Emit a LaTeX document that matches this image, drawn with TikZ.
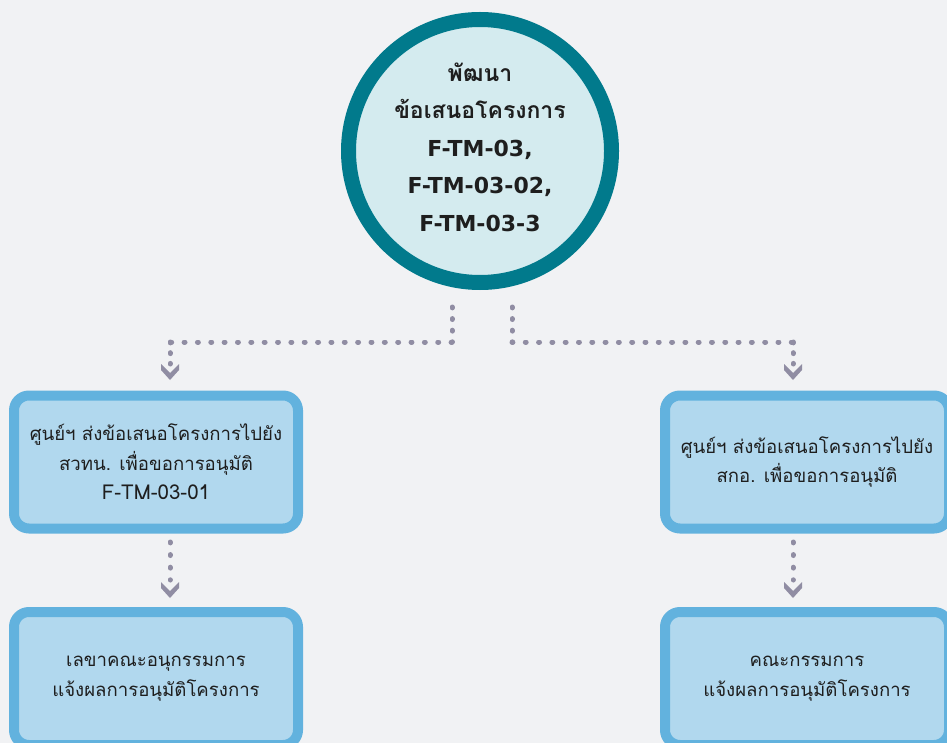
\documentclass[tikz,border=0pt]{standalone}
\usepackage{fontspec}
\newfontfamily\thai[Script=Thai]{Loma}
\newfontfamily\latinbold{DejaVu Sans}
\usetikzlibrary{calc}
\definecolor{bgc}{HTML}{F1F2F4}
\definecolor{ringc}{HTML}{017A8C}
\definecolor{circfill}{HTML}{D4EBEF}
\definecolor{boxedge}{HTML}{62B2DE}
\definecolor{boxfill}{HTML}{B1D8EE}
\definecolor{dotc}{HTML}{908DA3}
\definecolor{txtc}{HTML}{1E1E1E}
\newcommand{\codefont}{\latinbold\bfseries\fontsize{22}{37.5}\selectfont}
\newcommand{\boxcode}{\fontsize{20.5}{29.5}\selectfont}
\tikzset{
  hub/.style={circle, draw=ringc, line width=15pt, fill=circfill,
    minimum size=263pt, inner sep=0pt, outer sep=0pt},
  hubtext/.style={text=txtc, align=center, inner sep=0pt,
    font=\thai\bfseries\fontsize{23}{37.5}\selectfont},
  stepbox/.style={rectangle, rounded corners=15pt, draw=boxedge, line width=10pt,
    fill=boxfill, inner sep=0pt, outer sep=0pt, text=txtc, align=center,
    minimum width=284pt, minimum height=133pt,
    font=\thai\fontsize{18.6}{29.5}\selectfont},
  dotline/.style={draw=dotc, line width=5pt, line cap=round,
    dash pattern=on 0.9pt off #1},
  pics/chevron/.style={code={
    \fill[dotc] (0,0) -- (-9,-10) -- (-9,-16) -- (0,-7) -- (9,-16) -- (9,-10) -- cycle;
  }}
}
\begin{document}
\begin{tikzpicture}[x=1pt,y=-1pt]
  \fill[bgc] (0,0) rectangle (947,743);
  \useasboundingbox (0,0) rectangle (947,743);

  % central circle and its label
  \node[hub] (dev) at (480,151) {};
  \node[hubtext] (devtext) at (480,147) {พัฒนา\\ข้อเสนอโครงการ\\{\codefont F-TM-03,}\\{\codefont F-TM-03-02,}\\{\codefont F-TM-03-3}};

  % boxes
  \node[stepbox] (sendL) at (156,462) {ศูนย์ฯ ส่งข้อเสนอโครงการไปยัง\\สวทน. เพื่อขอการอนุมัติ\\{\boxcode F-TM-03-01}};
  \node[stepbox] (sendR) at (807,462) {ศูนย์ฯ ส่งข้อเสนอโครงการไปยัง\\สกอ. เพื่อขอการอนุมัติ};
  \node[stepbox] (notL) at (156,678.5) {เลขาคณะอนุกรรมการ\\แจ้งผลการอนุมัติโครงการ};
  \node[stepbox] (notR) at (807,678.5) {คณะกรรมการ\\แจ้งผลการอนุมัติโครงการ};

  % connector waypoints
  \coordinate (l0) at (452,307);
  \coordinate (l1) at (452,342);
  \coordinate (l2) at (170,342);
  \coordinate (l3) at (170,364);
  \coordinate (lt) at (170,380);
  \coordinate (r0) at (512,307);
  \coordinate (r1) at (512,342);
  \coordinate (r2) at (793,342);
  \coordinate (r3) at (793,364);
  \coordinate (rt) at (793,380);
  \coordinate (lb0) at (170,542);
  \coordinate (lb1) at (170,580);
  \coordinate (lbt) at (170,598);
  \coordinate (rb0) at (793,542);
  \coordinate (rb1) at (793,580);
  \coordinate (rbt) at (793,598);

  % dotted connectors from the circle
  \draw[dotline=10.7pt] (l0) -- (l1);
  \draw[dotline=12.45pt] (l1) -- (l2);
  \draw[dotline=9.8pt] (l2) -- (l3);
  \pic at (lt) {chevron};
  \draw[dotline=10.7pt] (r0) -- (r1);
  \draw[dotline=12.4pt] (r1) -- (r2);
  \draw[dotline=9.8pt] (r2) -- (r3);
  \pic at (rt) {chevron};

  % dotted connectors between boxes
  \draw[dotline=11.7pt] (lb0) -- (lb1);
  \pic at (lbt) {chevron};
  \draw[dotline=11.7pt] (rb0) -- (rb1);
  \pic at (rbt) {chevron};
\end{tikzpicture}
\end{document}
